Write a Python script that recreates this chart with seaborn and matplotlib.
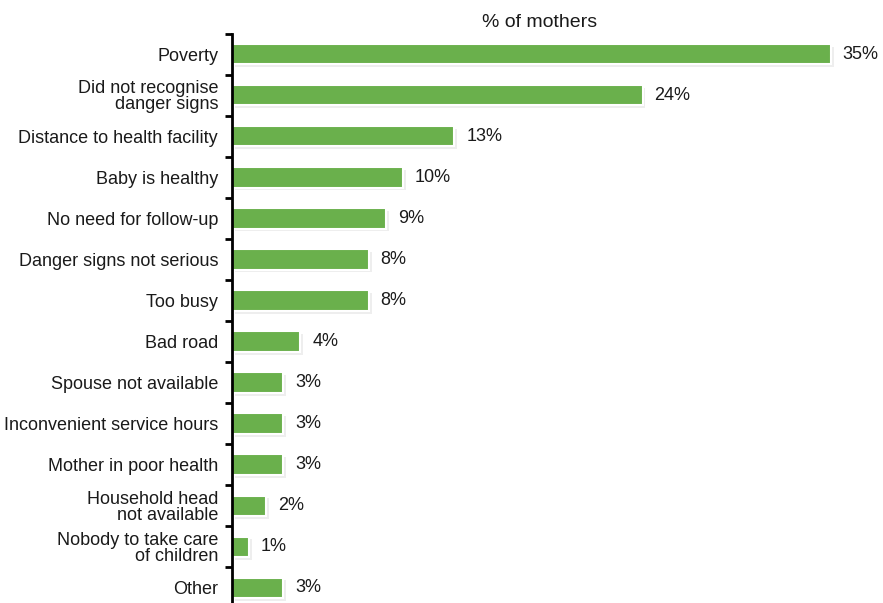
import matplotlib
matplotlib.use("Agg")
import matplotlib.pyplot as plt
import matplotlib.patheffects as pe
import seaborn as sns
import pandas as pd
import numpy as np

reasons = [
    "Poverty",
    "Did not recognise\ndanger signs",
    "Distance to health facility",
    "Baby is healthy",
    "No need for follow-up",
    "Danger signs not serious",
    "Too busy",
    "Bad road",
    "Spouse not available",
    "Inconvenient service hours",
    "Mother in poor health",
    "Household head\nnot available",
    "Nobody to take care\nof children",
    "Other",
]
shares = [35, 24, 13, 10, 9, 8, 8, 4, 3, 3, 3, 2, 1, 3]

df = pd.DataFrame({"reason": reasons, "share": shares})

sns.set_theme(style="white")
plt.rcParams["font.family"] = ["Liberation Sans", "DejaVu Sans"]

fig = plt.figure(figsize=(8.83, 6.03), dpi=100)
ax = fig.add_axes([232 / 883, -5.5 / 603, 616 / 883, 575 / 603])

sns.barplot(data=df, x="share", y="reason", orient="h", color="#6AB04C",
            saturation=1, width=0.5, edgecolor="white", linewidth=1.5, ax=ax)

shadow = [pe.SimplePatchShadow(offset=(2, -2), shadow_rgbFace="0.7", alpha=0.22),
          pe.Normal()]
for p in ax.patches:
    p.set_path_effects(shadow)

ax.bar_label(ax.containers[0], labels=[f"{v}%" for v in shares],
             padding=8.5, fontsize=13, color="#1a1a1a")

n = len(reasons)
ax.set_xlim(0, 36)
ax.set_ylim(n - 0.5, -0.5)
ax.set_xlabel("")
ax.set_ylabel("")
ax.set_xticks([])

# category labels sit at bar centres; tick marks sit between bars
ax.set_yticks(np.arange(n))
ax.set_yticklabels(reasons, fontsize=13, color="#1a1a1a", linespacing=0.95,
                   multialignment="right")
ax.set_yticks(np.arange(n + 1) - 0.5, minor=True)
ax.tick_params(axis="y", which="major", length=0, pad=10)
ax.tick_params(axis="y", which="minor", length=5, width=2, color="black",
               direction="out", left=True)

for side in ["top", "right", "bottom"]:
    ax.spines[side].set_visible(False)
ax.spines["left"].set_linewidth(2)
ax.spines["left"].set_color("black")

ax.set_title("% of mothers", fontsize=14, color="#1a1a1a", pad=5)

fig.savefig("out.png", dpi=100)
